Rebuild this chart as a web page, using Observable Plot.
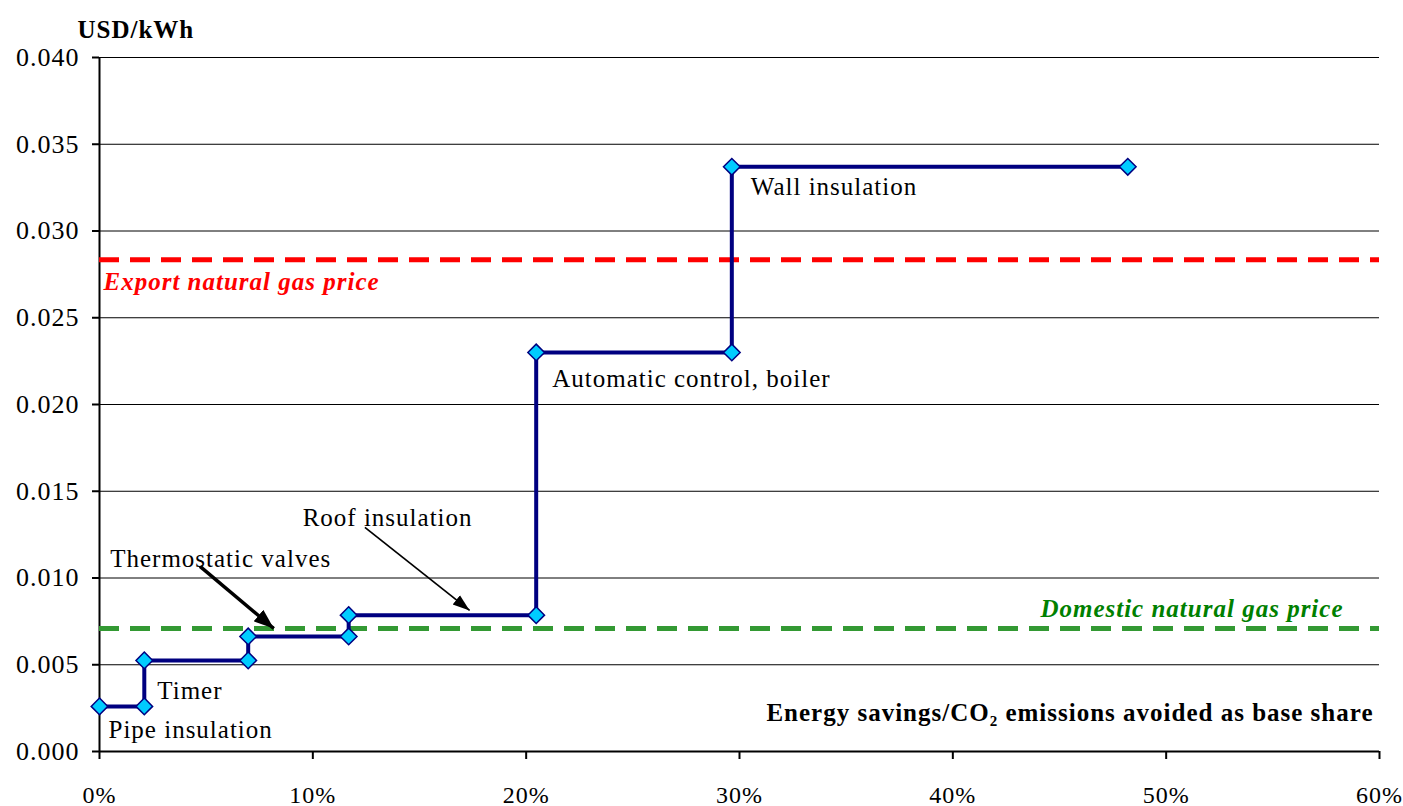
<!DOCTYPE html>
<html>
<head>
<meta charset="utf-8">
<script src="https://cdn.jsdelivr.net/npm/d3@7"></script>
<script src="https://cdn.jsdelivr.net/npm/@observablehq/plot@0.6"></script>
<style>
  body { margin: 0; background: #fff; }
  #chart svg { display: block; }
  #chart svg text { letter-spacing: 1px; }
</style>
</head>
<body>
<div id="chart"></div>
<script>
// ---- Data ----
const measures = ["Pipe insulation", "Timer", "Thermostatic valves", "Roof insulation", "Automatic control, boiler", "Wall insulation"];
const startShare = [0.000, 0.021, 0.0697, 0.1168, 0.2047, 0.2964];
const endShare   = [0.021, 0.0697, 0.1168, 0.2047, 0.2964, 0.482];
const cost       = [0.0026, 0.00525, 0.00663, 0.00786, 0.0230, 0.0337];
const exportPrice = 0.02835;
const domesticPrice = 0.00709;
const yTicks = [0, 0.005, 0.010, 0.015, 0.020, 0.025, 0.030, 0.035, 0.040];
const xTicks = [0, 0.1, 0.2, 0.3, 0.4, 0.5, 0.6];
const yLabel = "USD/kWh";
const xLabel = "Energy savings/CO₂ emissions avoided as base share";
const exportLabel = "Export natural gas price";
const domesticLabel = "Domestic natural gas price";

// step corner points built from the arrays
const corners = measures.flatMap((m, i) => [
  {m, x: startShare[i], y: cost[i]},
  {m, x: endShare[i], y: cost[i]}
]);
const byName = Object.fromEntries(measures.map((m, i) => [m, {x: startShare[i], y: cost[i], end: endShare[i]}]));

const serif = "'Liberation Serif', 'Times New Roman', serif";

const labelMark = (name, dx, dy) => Plot.text([byName[name]], {
  x: "x", y: "y", text: () => name, dx, dy, textAnchor: "start",
  fontSize: 25, fill: "#000", fontFamily: serif
});

// filled triangular arrowhead marker
const solidHead = (len, wid) => () => {
  const m = d3.create("svg:marker")
    .attr("viewBox", "-10 -6 10 12")
    .attr("markerUnits", "userSpaceOnUse")
    .attr("markerWidth", len)
    .attr("markerHeight", wid)
    .attr("preserveAspectRatio", "none")
    .attr("refX", 0)
    .attr("refY", 0)
    .attr("orient", "auto")
    .attr("fill", "#000")
    .attr("stroke", "none");
  m.append("path").attr("d", "M-10,-5L0,0L-10,5Z");
  return m.node();
};

const chart = Plot.plot({
  width: 1403,
  height: 806,
  marginLeft: 99,
  marginRight: 24,
  marginTop: 57,
  marginBottom: 55,
  style: {fontFamily: serif, background: "#fff", overflow: "visible"},
  x: {domain: [0, 0.6], ticks: xTicks, tickFormat: d3.format(".0%")},
  y: {domain: [0, 0.04], ticks: yTicks, tickFormat: d3.format(".3f")},
  marks: [
    Plot.gridY(yTicks, {stroke: "#000", strokeOpacity: 1, strokeWidth: 1}),
    Plot.axisY(yTicks, {tickSize: 7, tickPadding: 13, fontSize: 26, stroke: "#000", strokeWidth: 2, label: null, tickFormat: d3.format(".3f")}),
    Plot.axisX(xTicks, {tickSize: 8, tickPadding: 26, fontSize: 24, stroke: "#000", strokeWidth: 2, label: null, tickFormat: d3.format(".0%")}),
    Plot.ruleX([0], {stroke: "#000", strokeWidth: 2}),
    Plot.ruleY([0], {stroke: "#000", strokeWidth: 2}),
    // price lines
    Plot.ruleY([exportPrice], {x1: 0, x2: 0.6, stroke: "#FF0000", strokeWidth: 5, strokeDasharray: "20,11"}),
    Plot.ruleY([domesticPrice], {x1: 0, x2: 0.6, stroke: "#339933", strokeWidth: 5, strokeDasharray: "20,11"}),
    // step curve
    Plot.line(corners, {x: "x", y: "y", stroke: "#000080", strokeWidth: 4}),
    Plot.dot(corners, {x: "x", y: "y", symbol: "diamond2", r: 7.5, fill: "#00CCFF", stroke: "#000080", strokeWidth: 1.5}),
    // annotation arrows
    Plot.link([{x1: 0.0471, y1: 0.01067, x2: 0.0817, y2: 0.00709}], {x1: "x1", y1: "y1", x2: "x2", y2: "y2", stroke: "#000", strokeWidth: 3.5, markerEnd: solidHead(20, 18)}),
    Plot.link([{x1: 0.1244, y1: 0.01292, x2: 0.1735, y2: 0.00813}], {x1: "x1", y1: "y1", x2: "x2", y2: "y2", stroke: "#000", strokeWidth: 1.7, markerEnd: solidHead(17, 14)}),
    // labels
    labelMark("Pipe insulation", 9, 24),
    labelMark("Timer", 13, 31),
    labelMark("Thermostatic valves", -138, -77),
    labelMark("Roof insulation", -46, -97),
    labelMark("Automatic control, boiler", 16, 27),
    labelMark("Wall insulation", 19, 20),
    Plot.text([exportPrice], {x: 0, y: d => d, text: () => exportLabel, dx: 4, dy: 22, textAnchor: "start", fontSize: 25, fontWeight: "bold", fontStyle: "italic", fill: "#FF0000", fontFamily: serif}),
    Plot.text([domesticPrice], {x: 0.6, y: d => d, text: () => domesticLabel, dx: -36, dy: -19, textAnchor: "end", fontSize: 25, fontWeight: "bold", fontStyle: "italic", fill: "#008000", fontFamily: serif}),
    Plot.text([xLabel], {frameAnchor: "bottom-right", dx: -6, dy: -31, textAnchor: "end", fontSize: 25, fontWeight: "bold", fill: "#000", fontFamily: serif}),
    Plot.text([yLabel], {frameAnchor: "top-left", dx: -22, dy: -37, textAnchor: "start", fontSize: 25, fontWeight: "bold", fill: "#000", fontFamily: serif})
  ]
});
document.getElementById("chart").appendChild(chart);
</script>
</body>
</html>
